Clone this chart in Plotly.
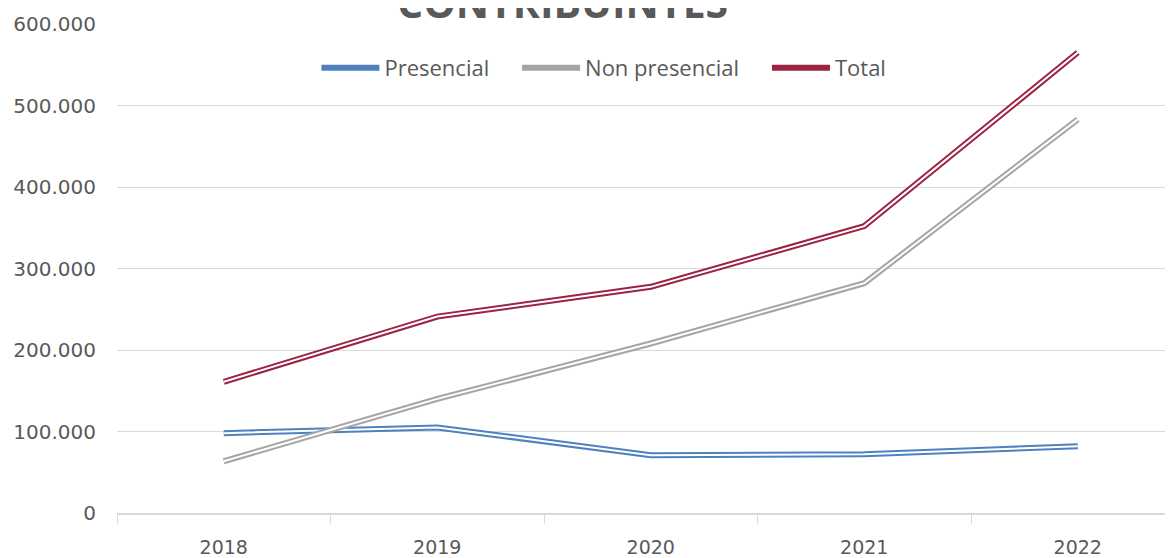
import plotly.graph_objects as go

years = ["2018", "2019", "2020", "2021", "2022"]
presencial = [98000, 105000, 71000, 72000, 82000]
non_presencial = [63500, 140000, 208000, 282000, 483000]
total = [161000, 241000, 277500, 352000, 565000]

series = [
    ("Presencial", presencial, "#4f81bd"),
    ("Non presencial", non_presencial, "#a5a5a5"),
    ("Total", total, "#9b2343"),
]

fig = go.Figure()

# Excel "double" line look: thick coloured stroke with a thin white core
for name, vals, col in series:
    fig.add_scatter(x=years, y=vals, mode="lines", name=name + "\u00a0" * 4,
                    line=dict(color=col, width=6), legendgroup=name)
    fig.add_scatter(x=years, y=vals, mode="lines", name=name,
                    line=dict(color="white", width=2), legendgroup=name,
                    showlegend=False, hoverinfo="skip")

fig.add_annotation(text="<b>CONTRIBUINTES</b>", xref="paper", yref="paper",
                   x=0.4223, y=1.045, xanchor="center", yanchor="middle",
                   showarrow=False,
                   font=dict(family="Open Sans", size=41, color="#595959"))

# page body adds an 8px offset, so the figure is drawn 8px smaller
fig.update_layout(
    width=1165, height=550,
    margin=dict(l=109, r=0, t=16, b=43),
    plot_bgcolor="white", paper_bgcolor="white",
    separators=",.",
    showlegend=True,
    legend=dict(orientation="h", x=0.472, y=0.91, xanchor="center", yanchor="middle",
                itemwidth=58,
                font=dict(family="Open Sans", size=22, color="#595959"),
                bgcolor="rgba(0,0,0,0)"),
)

fig.update_xaxes(type="category", range=[-0.5, 4.446], tickson="boundaries",
                 ticks="outside", ticklen=9, tickcolor="#d9d9d9",
                 showline=True, linecolor="#d9d9d9", linewidth=1.5,
                 showgrid=False, ticklabelstandoff=16,
                 tickfont=dict(family="DejaVu Sans", size=19, color="#595959"))
fig.update_yaxes(range=[0, 600000], dtick=100000, tickformat=",d",
                 showgrid=True, gridcolor="#d9d9d9", gridwidth=1.2,
                 zeroline=False, ticklabelstandoff=20,
                 tickfont=dict(family="DejaVu Sans", size=20, color="#595959"))

fig.write_html("out.html")
